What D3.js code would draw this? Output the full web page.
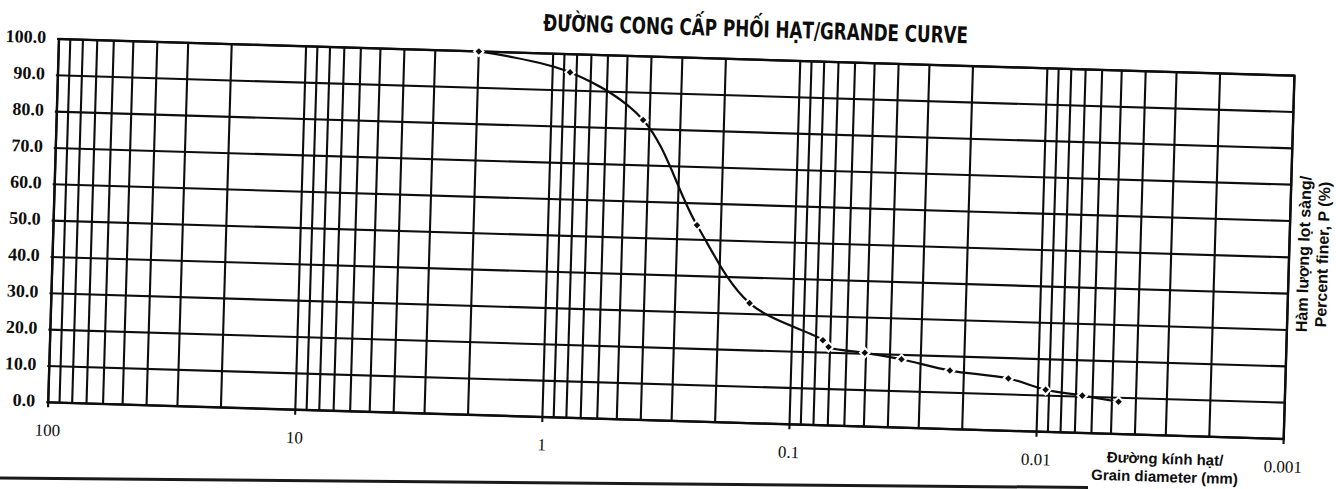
<!DOCTYPE html>
<html><head><meta charset="utf-8">
<script src="https://cdn.jsdelivr.net/npm/d3@7"></script>
<style>html,body{margin:0;padding:0;background:#fff;} svg{display:block}</style>
</head><body><svg id="c" width="1336" height="489"></svg>
<script>
// ---- data ----
const diameters    = [2.0, 0.85, 0.425, 0.25, 0.15, 0.075, 0.071, 0.0506, 0.0359, 0.0228, 0.0132, 0.0093, 0.0066, 0.0047];
const percentFiner = [100, 95, 82.5, 54, 33, 23.4, 21.6, 20.3, 18.8, 16.1, 14.4, 11.6, 10.3, 8.9];
const xTickValues  = [100, 10, 1, 0.1, 0.01, 0.001];
const xTickLabels  = ["100", "10", "1", "0.1", "0.01", "0.001"];
const yTickValues  = [0, 10, 20, 30, 40, 50, 60, 70, 80, 90, 100];
const yTickLabels  = ["0.0", "10.0", "20.0", "30.0", "40.0", "50.0", "60.0", "70.0", "80.0", "90.0", "100.0"];
const titleText    = "ĐƯỜNG CONG CẤP PHỐI HẠT/GRANDE CURVE";
const xTitleLines  = ["Đường kính hạt/", "Grain diameter (mm)"];
const yTitleLines  = ["Hàm lượng lọt sàng/", "Percent finer, P (%)"];

// ---- layout ----
const W = 1236, H = 363.5;
const svg = d3.select("#c");
svg.append("rect").attr("width", 1336).attr("height", 489).attr("fill", "#fff");

// page rule at the bottom of the scan
svg.append("line").attr("x1", 0).attr("y1", 478).attr("x2", 1088).attr("y2", 487.5)
  .attr("stroke", "#1a1a1a").attr("stroke-width", 3);

const g = svg.append("g").attr("transform", "translate(59,39) rotate(1.7)");

const x = d3.scaleLog().domain([100, 0.001]).range([0, W]);
const y = d3.scaleLinear().domain([0, 100]).range([H, 0]);

const ink = "#0d0d0d";

// vertical log grid
g.append("g").selectAll("line").data(x.ticks())
  .join("line")
  .attr("x1", d => x(d)).attr("x2", d => x(d))
  .attr("y1", 0)
  .attr("y2", d => xTickValues.some(v => Math.abs(Math.log10(v) - Math.log10(d)) < 1e-9) ? H + 5 : H)
  .attr("stroke", ink).attr("stroke-width", 2.1);

// horizontal grid
g.append("g").selectAll("line").data(yTickValues)
  .join("line")
  .attr("x1", -2).attr("x2", W)
  .attr("y1", d => y(d)).attr("y2", d => y(d))
  .attr("stroke", ink).attr("stroke-width", 2.1);

// border
g.append("rect").attr("x", 0).attr("y", 0).attr("width", W).attr("height", H)
  .attr("fill", "none").attr("stroke", ink).attr("stroke-width", 2.4);

// y tick labels
g.append("g").selectAll("text").data(yTickValues)
  .join("text")
  .attr("x", -13).attr("y", d => y(d) - 1.5)
  .attr("text-anchor", "end").attr("dominant-baseline", "central")
  .attr("font-family", "'Liberation Serif','Times New Roman',serif")
  .attr("font-weight", "bold").attr("font-size", 18).attr("fill", ink)
  .text((d, i) => yTickLabels[i]);

// x tick labels
g.append("g").selectAll("text").data(xTickValues)
  .join("text")
  .attr("x", d => x(d)).attr("y", H + 28)
  .attr("text-anchor", "middle").attr("dominant-baseline", "central")
  .attr("font-family", "'Liberation Serif','Times New Roman',serif")
  .attr("font-size", 17).attr("fill", ink)
  .text((d, i) => xTickLabels[i]);

// title
g.append("text")
  .attr("x", 696).attr("y", -22.7)
  .attr("text-anchor", "middle")
  .attr("font-family", "'Liberation Sans Narrow','DejaVu Sans Condensed','Roboto Condensed',sans-serif")
  .attr("font-weight", "bold").attr("font-size", 23).attr("fill", ink)
  .attr("textLength", 425).attr("lengthAdjust", "spacingAndGlyphs")
  .text(titleText);

// x axis title
g.append("g").selectAll("text").data(xTitleLines)
  .join("text")
  .attr("x", 1118).attr("y", (d, i) => 392 + i * 18)
  .attr("text-anchor", "middle")
  .attr("font-family", "'Liberation Sans',Arial,sans-serif")
  .attr("font-weight", "bold").attr("font-size", 15).attr("fill", ink)
  .text(d => d);

// y axis title (right side, vertical)
g.append("g").selectAll("text").data(yTitleLines)
  .join("text")
  .attr("transform", (d, i) => `translate(${1256 + i * 19},178) rotate(-90)`)
  .attr("text-anchor", "middle")
  .attr("font-family", "'Liberation Sans',Arial,sans-serif")
  .attr("font-weight", "bold").attr("font-size", 16).attr("fill", ink)
  .text(d => d);

// curve
const pts = diameters.map((d, i) => [x(d), y(percentFiner[i])]);
g.append("path")
  .attr("d", d3.line().curve(d3.curveCatmullRom.alpha(0.5))(pts))
  .attr("fill", "none").attr("stroke", ink).attr("stroke-width", 2.2);

// markers
g.append("g").selectAll("path").data(pts)
  .join("path")
  .attr("transform", d => `translate(${d[0]},${d[1]}) rotate(45)`)
  .attr("d", d3.symbol(d3.symbolSquare, 22)())
  .attr("fill", ink).attr("stroke", "#fff").attr("stroke-width", 4)
  .attr("paint-order", "stroke");
</script></body></html>
